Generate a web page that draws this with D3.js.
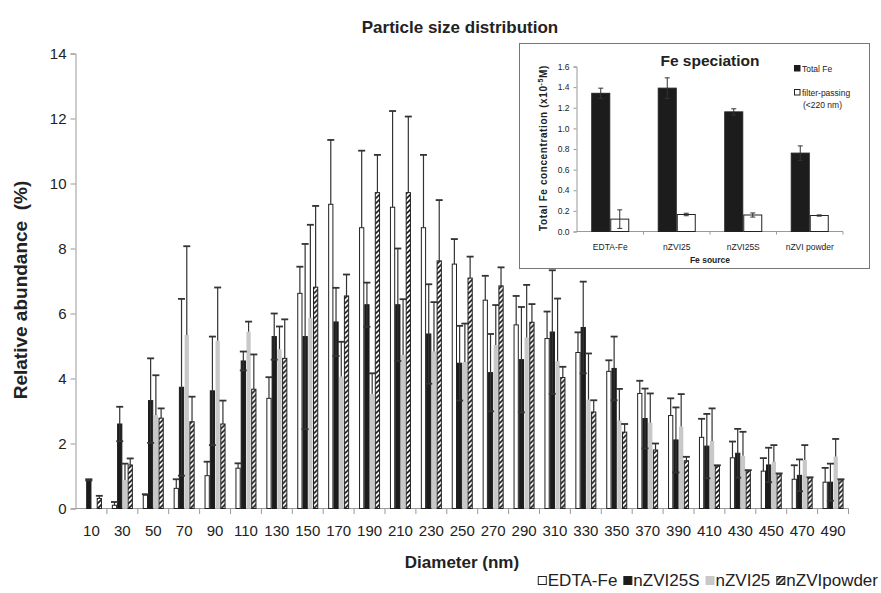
<!DOCTYPE html>
<html>
<head>
<meta charset="utf-8">
<script src="https://cdn.jsdelivr.net/npm/d3@7"></script>
<style>
body { margin: 0; background: #fff; }
text { font-family: "Liberation Sans", Arial, sans-serif; fill: #222; }
</style>
</head>
<body>
<svg id="chart" width="881" height="593"></svg>
<script>
// particle size distribution
var diameters = [10, 30, 50, 70, 90, 110, 130, 150, 170, 190, 210, 230, 250,
    270, 290, 310, 330, 350, 370, 390, 410, 430, 450, 470, 490];
var seriesNames = ['EDTA-Fe', 'nZVI25S', 'nZVI25', 'nZVIpowder'];

var edtaFe = [0, 0.1, 0.41, 0.62, 1.01, 1.24, 3.39, 6.62, 9.36, 8.64, 9.27, 8.64, 7.52,
    6.41, 5.65, 5.23, 4.8, 4.22, 3.54, 2.86, 2.19, 1.56, 1.15, 0.9, 0.81];
var edtaFeErr = [0, 0.1, 0.03, 0.28, 0.43, 0.15, 0.65, 0.82, 1.98, 2.37, 2.96, 2.24, 0.77,
    0.75, 0.89, 0.83, 0.62, 0.34, 0.39, 0.53, 0.57, 0.5, 0.4, 0.43, 0.44];
var nzvi25s = [0.88, 2.6, 3.32, 3.73, 3.62, 4.54, 5.29, 5.29, 5.74, 6.27, 6.27, 5.37, 4.47,
    4.18, 4.58, 5.43, 5.57, 4.31, 2.77, 2.11, 1.92, 1.7, 1.34, 1.02, 0.81];
var nzvi25sErr = [0.02, 0.53, 1.3, 2.72, 1.67, 0.29, 0.71, 2.85, 1.05, 0.68, 1.73, 1.53, 1.15,
    1.19, 1.62, 1.9, 1.41, 0.98, 0.92, 1.0, 0.99, 0.75, 0.53, 0.49, 0.57];
var nzvi25 = [0, 0.88, 2.88, 5.34, 5.16, 5.44, 4.9, 5.87, 4.06, 3.52, 4.72, 4.83, 4.51,
    5.03, 5.26, 4.53, 3.35, 2.71, 2.64, 2.52, 2.08, 1.62, 1.44, 1.49, 1.6];
var nzvi25Err = [0, 0.5, 1.22, 2.73, 1.64, 0.31, 0.7, 2.86, 1.07, 0.64, 1.72, 1.52, 1.18,
    1.23, 1.62, 1.93, 1.42, 0.97, 0.9, 1.0, 1.0, 0.74, 0.51, 0.46, 0.54];
var nzviPowder = [0.31, 1.34, 2.78, 2.67, 2.6, 3.67, 4.62, 6.81, 6.54, 9.72, 9.72, 7.62, 7.09,
    6.85, 5.73, 4.03, 2.97, 2.35, 1.8, 1.47, 1.31, 1.16, 1.06, 0.94, 0.88];
var nzviPowderErr = [0.08, 0.2, 0.3, 0.77, 0.72, 1.07, 1.2, 2.5, 0.66, 1.16, 2.34, 1.87, 0.66,
    0.57, 0.56, 0.33, 0.36, 0.25, 0.2, 0.12, 0.02, 0.02, 0.02, 0.02, 0.02];
var yTicks = [0, 2, 4, 6, 8, 10, 12, 14];

// inset: Fe speciation
var insetSources = ['EDTA-Fe', 'nZVI25', 'nZVI25S', 'nZVI powder'];
var totalFe = [1.34, 1.39, 1.16, 0.76];
var totalFeErr = [0.05, 0.1, 0.03, 0.07];
var filterFe = [0.12, 0.165, 0.16, 0.155];
var filterFeErr = [0.09, 0.012, 0.02, 0.006];
var insetTicks = [0, 0.2, 0.4, 0.6, 0.8, 1, 1.2, 1.4, 1.6];

var seriesValues = [edtaFe, nzvi25s, nzvi25, nzviPowder];
var seriesErrors = [edtaFeErr, nzvi25sErr, nzvi25Err, nzviPowderErr];
var seriesStyle = {
    'EDTA-Fe': { fill: '#fff', stroke: '#222', lower: false },
    'nZVI25S': { fill: '#1c1c1c', stroke: '#1c1c1c', lower: true },
    'nZVI25': { fill: '#c8c8c8', stroke: 'none', lower: false },
    'nZVIpowder': { fill: 'url(#hatch)', stroke: '#222', lower: false }
};

var rows = diameters.map(function (d, i) {
    return {
        diameter: d,
        values: seriesNames.map(function (s, j) {
            return { key: s, value: seriesValues[j][i], err: seriesErrors[j][i] };
        })
    };
});

var svg = d3.select('#chart');
svg.append('rect').attr('width', 881).attr('height', 593).attr('fill', '#fff');

var defs = svg.append('defs');
defs.append('pattern')
    .attr('id', 'hatch')
    .attr('patternUnits', 'userSpaceOnUse')
    .attr('width', 5)
    .attr('height', 5)
    .call(function (p) {
        p.append('rect').attr('width', 5).attr('height', 5).attr('fill', '#fff');
        p.append('path')
            .attr('d', 'M-1,6 L6,-1 M-1,1 L1,-1 M4,6 L6,4')
            .attr('stroke', '#1a1a1a')
            .attr('stroke-width', 1.6);
    });

// ---------- main chart ----------
var x0 = d3.scaleBand()
    .domain(diameters)
    .range([76, 848.5]);
var gw = x0.bandwidth();
var x1 = d3.scaleBand()
    .domain(seriesNames)
    .range([(gw - 21) / 2, (gw + 21) / 2]);
var y = d3.scaleLinear()
    .domain([0, 14])
    .range([508.5, 53.5]);

var main = svg.append('g');

var yAxis = main.append('g')
    .attr('transform', 'translate(75.5,0)')
    .call(d3.axisLeft(y).tickValues(yTicks).tickSize(5).tickPadding(4));
yAxis.select('.domain').attr('stroke', '#999');
yAxis.selectAll('.tick line').attr('stroke', '#999');
yAxis.selectAll('.tick text')
    .style('font-size', '15px')
    .attr('fill', '#222');

var xAxis = main.append('g')
    .attr('transform', 'translate(0,508.5)')
    .call(d3.axisBottom(x0).tickSize(0).tickPadding(17));
xAxis.select('.domain').remove();
xAxis.selectAll('.tick text')
    .style('font-size', '15px')
    .attr('fill', '#222');
main.append('line')
    .attr('x1', 75.5).attr('x2', 848.5)
    .attr('y1', 508.5).attr('y2', 508.5)
    .attr('stroke', '#999');
main.selectAll('.xBoundTick')
    .data(diameters)
    .enter()
    .append('line')
    .attr('class', 'xBoundTick')
    .attr('x1', function (d) { return x0(d) + gw; })
    .attr('x2', function (d) { return x0(d) + gw; })
    .attr('y1', 508.5).attr('y2', 514)
    .attr('stroke', '#999');

var groups = main.selectAll('.group')
    .data(rows)
    .enter()
    .append('g')
    .attr('class', 'group')
    .attr('transform', function (d) { return 'translate(' + x0(d.diameter) + ',0)'; });

groups.selectAll('rect')
    .data(function (d) { return d.values; })
    .enter()
    .append('rect')
    .attr('x', function (d) { return x1(d.key) + 0.5; })
    .attr('width', x1.bandwidth() - 1)
    .attr('y', function (d) { return y(d.value); })
    .attr('height', function (d) { return y(0) - y(d.value); })
    .attr('fill', function (d) { return seriesStyle[d.key].fill; })
    .attr('stroke', function (d) { return seriesStyle[d.key].stroke; })
    .attr('stroke-width', 1)
    .style('display', function (d) { return d.value > 0 ? null : 'none'; });

var errs = groups.selectAll('.err')
    .data(function (d) { return d.values.filter(function (v) { return v.value > 0; }); })
    .enter()
    .append('g')
    .attr('class', 'err')
    .attr('transform', function (d) { return 'translate(' + (x1(d.key) + x1.bandwidth() / 2) + ',0)'; });
errs.append('line')
    .attr('y1', function (d) {
        return seriesStyle[d.key].lower ? y(Math.max(0, d.value - d.err)) : y(d.value);
    })
    .attr('y2', function (d) { return y(d.value + d.err); })
    .attr('stroke', '#333')
    .attr('stroke-width', 1.2);
errs.append('line')
    .attr('x1', -3.5).attr('x2', 3.5)
    .attr('y1', function (d) { return y(d.value + d.err); })
    .attr('y2', function (d) { return y(d.value + d.err); })
    .attr('stroke', '#333')
    .attr('stroke-width', 1.8);
errs.filter(function (d) { return seriesStyle[d.key].lower; })
    .append('line')
    .attr('x1', -3.5).attr('x2', 3.5)
    .attr('y1', function (d) { return y(Math.max(0, d.value - d.err)); })
    .attr('y2', function (d) { return y(Math.max(0, d.value - d.err)); })
    .attr('stroke', '#333')
    .attr('stroke-width', 1.8);

main.append('text')
    .attr('x', 460).attr('y', 33)
    .attr('text-anchor', 'middle')
    .style('font-size', '17px')
    .style('font-weight', 'bold')
    .text('Particle size distribution');
main.append('text')
    .attr('transform', 'translate(27,290) rotate(-90)')
    .attr('text-anchor', 'middle')
    .style('font-size', '19px')
    .style('font-weight', 'bold')
    .attr('xml:space', 'preserve')
    .text('Relative abundance  (%)');
main.append('text')
    .attr('x', 462).attr('y', 568)
    .attr('text-anchor', 'middle')
    .style('font-size', '17px')
    .style('font-weight', 'bold')
    .text('Diameter (nm)');

// legend at the bottom, laid out then pushed to the right edge
var legend = main.append('g');
var lx = 0;
seriesNames.forEach(function (s) {
    var item = legend.append('g').attr('transform', 'translate(' + lx + ',0)');
    item.append('rect')
        .attr('x', 0.5).attr('y', -9.5)
        .attr('width', 8).attr('height', 8)
        .attr('fill', seriesStyle[s].fill)
        .attr('stroke', seriesStyle[s].stroke === 'none' ? seriesStyle[s].fill : '#222');
    var t = item.append('text')
        .attr('x', 10)
        .style('font-size', '17px')
        .text(s);
    lx += 10 + t.node().getComputedTextLength() + 6;
});
legend.attr('transform', 'translate(' + (884 - lx) + ',586)');

// ---------- inset ----------
var inset = svg.append('g');
inset.append('rect')
    .attr('x', 519.5).attr('y', 43.5)
    .attr('width', 350).attr('height', 225)
    .attr('fill', '#fff')
    .attr('stroke', '#777')
    .attr('stroke-width', 1);

var ix0 = d3.scaleBand().domain(insetSources).range([577, 843]);
var igw = ix0.bandwidth();
var ix1 = d3.scaleBand().domain(['total', 'filter']).range([(igw - 38) / 2, (igw + 38) / 2]);
var iy = d3.scaleLinear().domain([0, 1.6]).range([231.5, 66.5]);

var iyAxis = inset.append('g')
    .attr('transform', 'translate(576.5,0)')
    .call(d3.axisLeft(iy).tickValues(insetTicks).tickSize(3).tickPadding(4));
iyAxis.select('.domain').attr('stroke', '#999');
iyAxis.selectAll('.tick line').attr('stroke', '#999');
iyAxis.selectAll('.tick text').style('font-size', '8.5px').attr('fill', '#222');

inset.append('line')
    .attr('x1', 576.5).attr('x2', 843)
    .attr('y1', 231.5).attr('y2', 231.5)
    .attr('stroke', '#999');
var ixAxis = inset.append('g')
    .attr('transform', 'translate(0,231.5)')
    .call(d3.axisBottom(ix0).tickSize(0).tickPadding(12));
ixAxis.select('.domain').remove();
ixAxis.selectAll('.tick text').style('font-size', '8.5px').attr('fill', '#222');
inset.selectAll('.ixBoundTick')
    .data(insetSources)
    .enter()
    .append('line')
    .attr('class', 'ixBoundTick')
    .attr('x1', function (d) { return ix0(d) + igw; })
    .attr('x2', function (d) { return ix0(d) + igw; })
    .attr('y1', 231.5).attr('y2', 234.5)
    .attr('stroke', '#999');

var insetRows = insetSources.map(function (s, i) {
    return {
        source: s,
        values: [
            { key: 'total', value: totalFe[i], err: totalFeErr[i] },
            { key: 'filter', value: filterFe[i], err: filterFeErr[i] }
        ]
    };
});
var igroups = inset.selectAll('.igroup')
    .data(insetRows)
    .enter()
    .append('g')
    .attr('class', 'igroup')
    .attr('transform', function (d) { return 'translate(' + ix0(d.source) + ',0)'; });
igroups.selectAll('rect')
    .data(function (d) { return d.values; })
    .enter()
    .append('rect')
    .attr('x', function (d) { return ix1(d.key) + 0.5; })
    .attr('width', ix1.bandwidth() - 1)
    .attr('y', function (d) { return iy(d.value); })
    .attr('height', function (d) { return iy(0) - iy(d.value); })
    .attr('fill', function (d) { return d.key === 'total' ? '#1c1c1c' : '#fff'; })
    .attr('stroke', '#222')
    .attr('stroke-width', 1);
var ierrs = igroups.selectAll('.ierr')
    .data(function (d) { return d.values; })
    .enter()
    .append('g')
    .attr('class', 'ierr')
    .attr('transform', function (d) { return 'translate(' + (ix1(d.key) + ix1.bandwidth() / 2) + ',0)'; });
ierrs.append('line')
    .attr('y1', function (d) { return iy(d.value - d.err); })
    .attr('y2', function (d) { return iy(d.value + d.err); })
    .attr('stroke', '#333');
ierrs.selectAll('.cap')
    .data(function (d) { return [d.value - d.err, d.value + d.err]; })
    .enter()
    .append('line')
    .attr('x1', -2.5).attr('x2', 2.5)
    .attr('y1', function (d) { return iy(d); })
    .attr('y2', function (d) { return iy(d); })
    .attr('stroke', '#333');

inset.append('text')
    .attr('x', 710).attr('y', 66)
    .attr('text-anchor', 'middle')
    .style('font-size', '15.5px')
    .style('font-weight', 'bold')
    .text('Fe speciation');
inset.append('text')
    .attr('x', 710).attr('y', 263)
    .attr('text-anchor', 'middle')
    .style('font-size', '8.5px')
    .style('font-weight', 'bold')
    .text('Fe source');
var iyLabel = inset.append('text')
    .attr('transform', 'translate(547,148) rotate(-90)')
    .attr('text-anchor', 'middle')
    .style('font-size', '10px')
    .style('font-weight', 'bold')
    .style('letter-spacing', '0.6px');
iyLabel.append('tspan').text('Total Fe concentration (x10');
iyLabel.append('tspan').attr('dy', -4).style('font-size', '7px').text('-5');
iyLabel.append('tspan').attr('dy', 4).text('M)');

// inset legend
inset.append('rect')
    .attr('x', 794.5).attr('y', 65.5).attr('width', 5.5).attr('height', 5.5)
    .attr('fill', '#1c1c1c').attr('stroke', '#1c1c1c');
inset.append('text')
    .attr('x', 802).attr('y', 72)
    .style('font-size', '8.5px')
    .text('Total Fe');
inset.append('rect')
    .attr('x', 794.5).attr('y', 89.5).attr('width', 5.5).attr('height', 5.5)
    .attr('fill', '#fff').attr('stroke', '#222');
inset.append('text')
    .attr('x', 802).attr('y', 96)
    .style('font-size', '8.5px')
    .text('filter-passing');
inset.append('text')
    .attr('x', 803).attr('y', 108)
    .style('font-size', '8.5px')
    .text('(<220 nm)');
</script>
</body>
</html>
